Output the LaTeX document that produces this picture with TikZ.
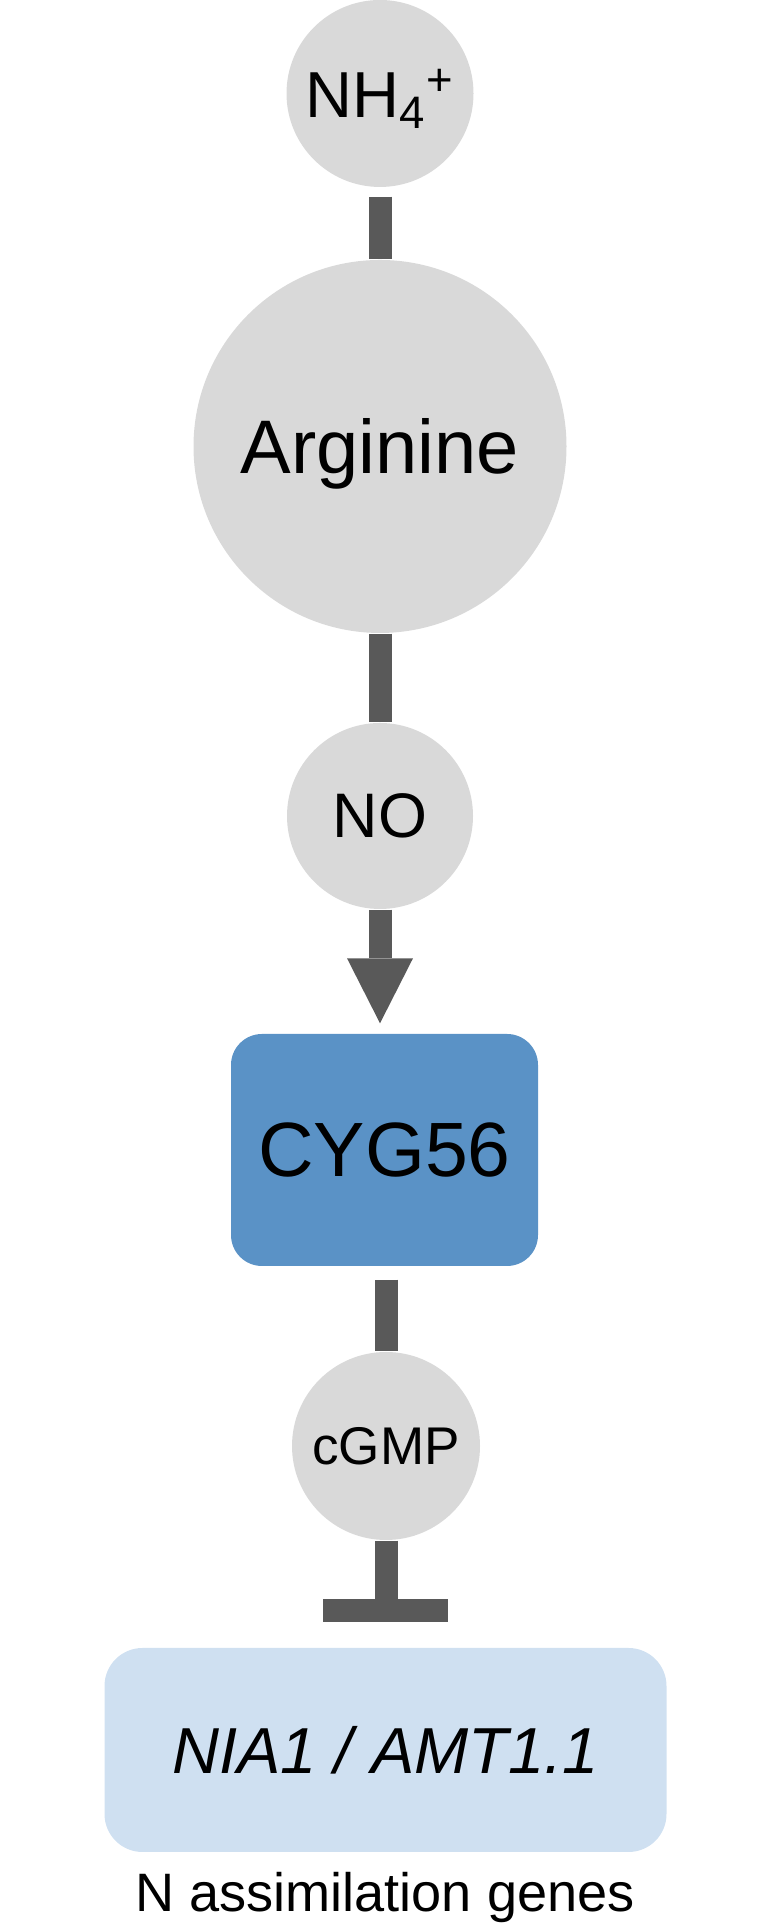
\documentclass[tikz,border=0pt]{standalone}
\usepackage{fontspec}
\setmainfont{Liberation Sans}
\usetikzlibrary{arrows.meta,positioning,calc}
\definecolor{metfill}{HTML}{D9D9D9}
\definecolor{linkc}{HTML}{595959}
\definecolor{cygfill}{HTML}{5A92C6}
\definecolor{genefill}{HTML}{CFE0F1}
\definecolor{ink}{HTML}{000000}

\begin{document}
\begin{tikzpicture}[
  metab/.style={circle,fill=metfill,inner sep=0pt,text=ink,text depth=0pt},
  enzbox/.style={rectangle,fill=cygfill,rounded corners=3.1mm,minimum width=3.07cm,minimum height=2.32cm,text=ink},
  genebox/.style={rectangle,fill=genefill,rounded corners=3.8mm,minimum width=5.62cm,minimum height=2.04cm,text=ink},
  link/.style={draw=linkc,line width=2.3mm},
  actarrow/.style={link,-{Triangle[width=6.6mm,length=6.5mm,line width=0pt]}},
]
\useasboundingbox (0,0) rectangle (7.70,19.23);

% ===================== metabolites and sensor =====================
\node[metab,minimum size=1.87cm,font=\fontsize{18.5pt}{22pt}\selectfont] (nh4) at (3.80,18.295)
  {NH\textsubscript{4}\textsuperscript{+}};
\node[metab,minimum size=3.73cm,font=\fontsize{21.6pt}{26pt}\selectfont] (arg) at (3.80,14.765) {Arginine};
\node[metab,minimum size=1.86cm,font=\fontsize{17.9pt}{21pt}\selectfont] (no) at (3.80,11.07) {NO};
\node[enzbox,font=\fontsize{21.9pt}{26pt}\selectfont] (cyg) at (3.845,7.73) {CYG56};
\node[metab,minimum size=1.88cm,font=\fontsize{15.1pt}{18pt}\selectfont] (cgmp) at (3.86,4.77) {cGMP};

% ===================== target genes =====================
\node[genebox,font=\fontsize{18.5pt}{22pt}\selectfont\itshape] (genes) at (3.855,1.73) {NIA1 / AMT1.1};
\node[font=\fontsize{15.4pt}{18pt}\selectfont,text=ink,anchor=base] (gcap) at (3.85,0.12) {N assimilation genes};

% ===================== links =====================
\draw[link,shorten <=0.9mm] (nh4.south) -- (arg.north);
\draw[link] (arg.south) -- (no.north);
\draw[actarrow,shorten >=1mm] (no.south) -- (no.south |- cyg.north);
\draw[link,shorten <=1.3mm] (cgmp.north |- cyg.south) -- (cgmp.north);
% repression bar above the genes
\coordinate (tee) at ([yshift=3.65mm]genes.north);
\draw[link] (cgmp.south) -- (cgmp.south |- tee);
\draw[link] ([xshift=-6.25mm]tee) -- ([xshift=6.25mm]tee);

\end{tikzpicture}
\end{document}
